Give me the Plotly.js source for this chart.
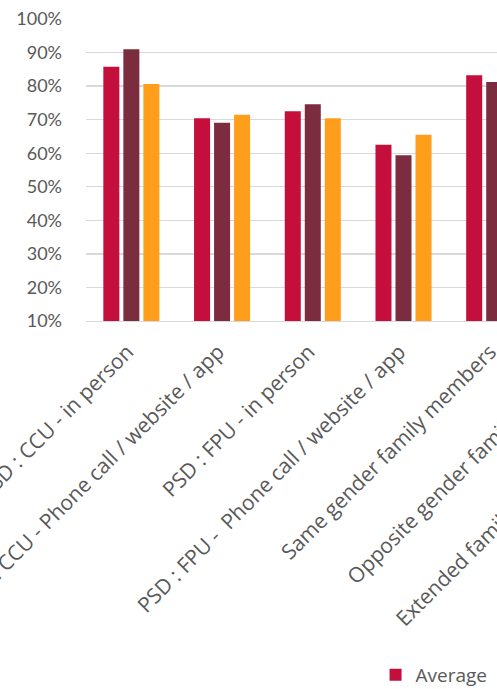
<!DOCTYPE html>
<html>
<head>
<meta charset="utf-8">
<script src="https://cdn.plot.ly/plotly-3.0.1.min.js"></script>
<style>
html, body { margin:0; padding:0; overflow:hidden; background:#fff; }
#chart { width:1000px; height:740px; }
</style>
</head>
<body>
<div id="chart"></div>
<script>
var categories = [
  "PSD : CCU - in person",
  "PSD : CCU - Phone call / website / app",
  "PSD : FPU - in person",
  "PSD : FPU -  Phone call / website / app",
  "Same gender family members",
  "Opposite gender family members",
  "Extended family members (e.g. cousins)"
];
var seriesNames = ["Average", "Male", "Female"];
var averageValues = [0.858, 0.704, 0.725, 0.625, 0.832, null, null];
var maleValues    = [0.910, 0.691, 0.746, 0.594, 0.812, null, null];
var femaleValues  = [0.806, 0.715, 0.704, 0.655, null, null, null];
var colors = ["#C40F3C", "#7B2D3F", "#FF9E1B"];
var yTickVals = [0.1,0.2,0.3,0.4,0.5,0.6,0.7,0.8,0.9,1.0];
var yTickText = ["10%","20%","30%","40%","50%","60%","70%","80%","90%","100%"];

var allValues = [averageValues, maleValues, femaleValues];
var traces = allValues.map(function(vals, i){
  return {
    type: 'bar',
    name: seriesNames[i],
    x: categories,
    y: vals,
    base: 0,
    marker: {color: colors[i]},
    hoverinfo: 'skip'
  };
});

var layout = {
  width: 1000,
  height: 740,
  margin: {l: 86, r: 279, t: 19, b: 419},
  paper_bgcolor: '#fff',
  plot_bgcolor: '#fff',
  barmode: 'group',
  bargap: 0.338,
  bargroupgap: 0.2,
  showlegend: true,
  legend: {
    orientation: 'h',
    x: 0.456, xanchor: 'left',
    y: -1.172, yanchor: 'middle',
    font: {family: 'Open Sans', size: 19, color: '#595959'}
  },
  xaxis: {
    type: 'category',
    range: [-0.5, 6.5],
    tickangle: -45,
    tickfont: {family: 'Open Sans', size: 21, color: '#595959'},
    showgrid: false,
    showline: true,
    linecolor: '#d9d9d9',
    linewidth: 1.3,
    ticks: '',
    ticklabelstandoff: 9,
    ticklabelshift: -4,
    automargin: false
  },
  yaxis: {
    range: [0.1, 1.0],
    tickvals: yTickVals,
    ticktext: yTickText,
    tickfont: {family: 'Lato', size: 18, color: '#595959'},
    showgrid: true,
    gridcolor: '#d9d9d9',
    gridwidth: 1.3,
    zeroline: false,
    showline: false,
    ticks: '',
    ticklabelstandoff: 23,
    automargin: false
  }
};

Plotly.newPlot('chart', traces, layout, {staticPlot: true, displayModeBar: false});
</script>
</body>
</html>
